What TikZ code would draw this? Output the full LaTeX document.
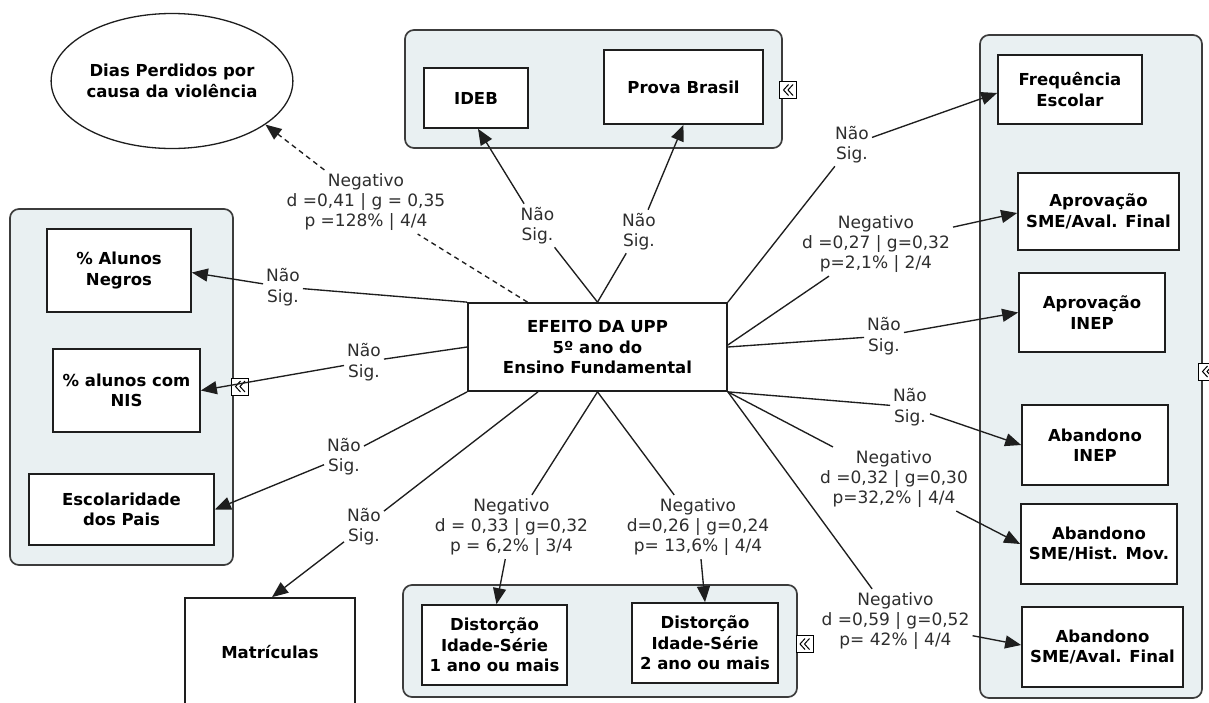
\documentclass[tikz,border=0pt]{standalone}
\usepackage{fontspec}
\setmainfont{DejaVu Sans}
\usetikzlibrary{arrows.meta,calc,shapes.geometric}

\definecolor{groupfill}{HTML}{E9F0F2}
\definecolor{groupline}{HTML}{3C3C3C}
\definecolor{ink}{HTML}{1E1E1E}
\definecolor{labelink}{HTML}{2E2E2E}

\tikzset{
  grp/.style={draw=groupline, line width=1.7pt, fill=groupfill, rounded corners=9pt, inner sep=0pt},
  box/.style={draw=ink, line width=1.7pt, fill=white, align=center, inner sep=2pt,
              font=\fontsize{16.5}{20.5}\selectfont\bfseries},
  lab/.style={align=center, inner sep=3pt, text=labelink, font=\fontsize{17}{20.4}\selectfont},
  conn/.style={draw=ink, line width=1.35pt, -{Triangle[length=16pt,width=13pt]}},
  chev/.pic={
    \draw[line width=0.9pt, fill=white] (-8.5,-8.5) rectangle (8.5,8.5);
    \draw[line width=1pt] (0.5,-5.5) -- (-4.5,0) -- (0.5,5.5);
    \draw[line width=1pt] (5,-5.5) -- (0,0) -- (5,5.5);
  }
}

\begin{document}
\begin{tikzpicture}[x=1pt,y=-1pt]
\clip (0,0) rectangle (1209,702);
\fill[white] (0,0) rectangle (1209,702);

% group panels
\node[grp, minimum width=377pt, minimum height=118pt] (gTop)   at (593.5,89) {};
\node[grp, minimum width=223pt, minimum height=356pt] (gLeft)  at (121.5,387) {};
\node[grp, minimum width=394pt, minimum height=112pt] (gBot)   at (600,641) {};
\node[grp, minimum width=222pt, minimum height=663pt] (gRight) at (1091,366.5) {};

% collapse markers on the panels
\pic at (788,90) {chev};
\pic at (240,386.5) {chev};
\pic at (804.5,644) {chev};
\pic at (1207,371.5) {chev};

% outcome boxes
\node[ellipse, draw=ink, line width=1.3pt, fill=white, align=center, inner sep=0pt,
      minimum width=229pt, minimum height=135pt,
      font=\fontsize{16.5}{20.5}\selectfont\bfseries] (ell) at (172,81)
      {Dias Perdidos por\\causa da violência};

\node[box, minimum width=104pt, minimum height=60pt] (ideb)  at (476,98) {IDEB};
\node[box, minimum width=159pt, minimum height=74pt] (prova) at (683.5,87) {Prova Brasil};

\node[box, minimum width=144pt, minimum height=83pt] (negros) at (119,270.5) {\% Alunos\\Negros};
\node[box, minimum width=147pt, minimum height=83pt] (nis)    at (126.5,390.5) {\% alunos com\\NIS};
\node[box, minimum width=185pt, minimum height=71pt] (escol)  at (121.5,509.5) {Escolaridade\\dos Pais};
\node[box, minimum width=170pt, minimum height=108pt] (matric) at (270,652) {Matrículas};

\node[box, minimum width=259pt, minimum height=88pt] (central) at (597.5,347)
      {EFEITO DA UPP\\5º ano do\\Ensino Fundamental};

\node[box, minimum width=145pt, minimum height=80pt] (dist1) at (494.5,645)
      {Distorção\\Idade-Série\\1 ano ou mais};
\node[box, minimum width=146pt, minimum height=80pt] (dist2) at (705,643)
      {Distorção\\Idade-Série\\2 ano ou mais};

\node[box, minimum width=144pt, minimum height=69pt] (freq)     at (1070,89.5)  {Frequência\\Escolar};
\node[box, minimum width=161pt, minimum height=77pt] (aprovSME) at (1098.5,211.5) {Aprovação\\SME/Aval. Final};
\node[box, minimum width=146pt, minimum height=79pt] (aprovINEP) at (1092,312.5) {Aprovação\\INEP};
\node[box, minimum width=146pt, minimum height=80pt] (abINEP)   at (1095,445)   {Abandono\\INEP};
\node[box, minimum width=156pt, minimum height=80pt] (abHist)   at (1099,544)   {Abandono\\SME/Hist. Mov.};
\node[box, minimum width=161pt, minimum height=80pt] (abAval)   at (1102.5,647) {Abandono\\SME/Aval. Final};

% connector labels
\node[lab] (lDash)  at (366,202)   {Negativo\\d =0,41 | g = 0,35\\p =128\% | 4/4};
\node[lab] (lIdeb)  at (537.5,225.5) {Não\\Sig.};
\node[lab] (lProva) at (639,231.5) {Não\\Sig.};
\node[lab] (lNeg)   at (283,287)   {Não\\Sig.};
\node[lab] (lNis)   at (364,362)   {Não\\Sig.};
\node[lab] (lEsc)   at (344,456.5) {Não\\Sig.};
\node[lab] (lMat)   at (364,526.5) {Não\\Sig.};
\node[lab] (lDist1) at (511.5,527) {Negativo\\d = 0,33 | g=0,32\\p = 6,2\% | 3/4};
\node[lab] (lDist2) at (698,527)   {Negativo\\d=0,26 | g=0,24\\p= 13,6\% | 4/4};
\node[lab] (lFreq)  at (852,144.5) {Não\\Sig.};
\node[lab] (lApSME) at (876,244)   {Negativo\\d =0,27 | g=0,32\\p=2,1\% | 2/4};
\node[lab] (lApINEP) at (884,336)  {Não\\Sig.};
\node[lab] (lAbINEP) at (910,407)  {Não\\Sig.};
\node[lab] (lAbHist) at (894,479)  {Negativo\\d =0,32 | g=0,30\\p=32,2\% | 4/4};
\node[lab] (lAbAval) at (895.5,621) {Negativo\\d =0,59 | g=0,52\\p= 42\% | 4/4};

% connectors from the central box
\draw[conn, dashed, dash pattern=on 5pt off 4pt] ($(central.north)+(-70,0)$) -- (lDash) -- (ell.-25);
\draw[conn] (central.north) -- (lIdeb) -- ($(ideb.south)+(2,0)$);
\draw[conn] (central.north) -- (lProva) -- (prova.south);
\draw[conn] (central.north west) -- (lNeg) -- ($(negros.east)+(0,2)$);
\draw[conn] (central.west) -- (lNis) -- (nis.east);
\draw[conn] (central.south west) -- (lEsc) -- (escol.east);
\draw[conn] ($(central.south)+(-59.5,0)$) -- (lMat) -- ($(matric.north)+(2,0)$);
\draw[conn] (central.south) -- (lDist1) -- ($(dist1.north)+(2,0)$);
\draw[conn] (central.south) -- (lDist2) -- (dist2.north);
\draw[conn] (central.north east) -- (lFreq) -- ($(freq.west)+(0,3.5)$);
\draw[conn] ($(central.east)+(0,-2)$) -- (lApSME) -- ($(aprovSME.west)+(0,1.5)$);
\draw[conn] (central.east) -- (lApINEP) -- (aprovINEP.west);
\draw[conn] (central.south east) -- (lAbINEP) -- (abINEP.west);
\draw[conn] (central.south east) -- (lAbHist) -- (abHist.west);
\draw[conn] (central.south east) -- (lAbAval) -- ($(abAval.west)+(0,-2)$);
\end{tikzpicture}
\end{document}
